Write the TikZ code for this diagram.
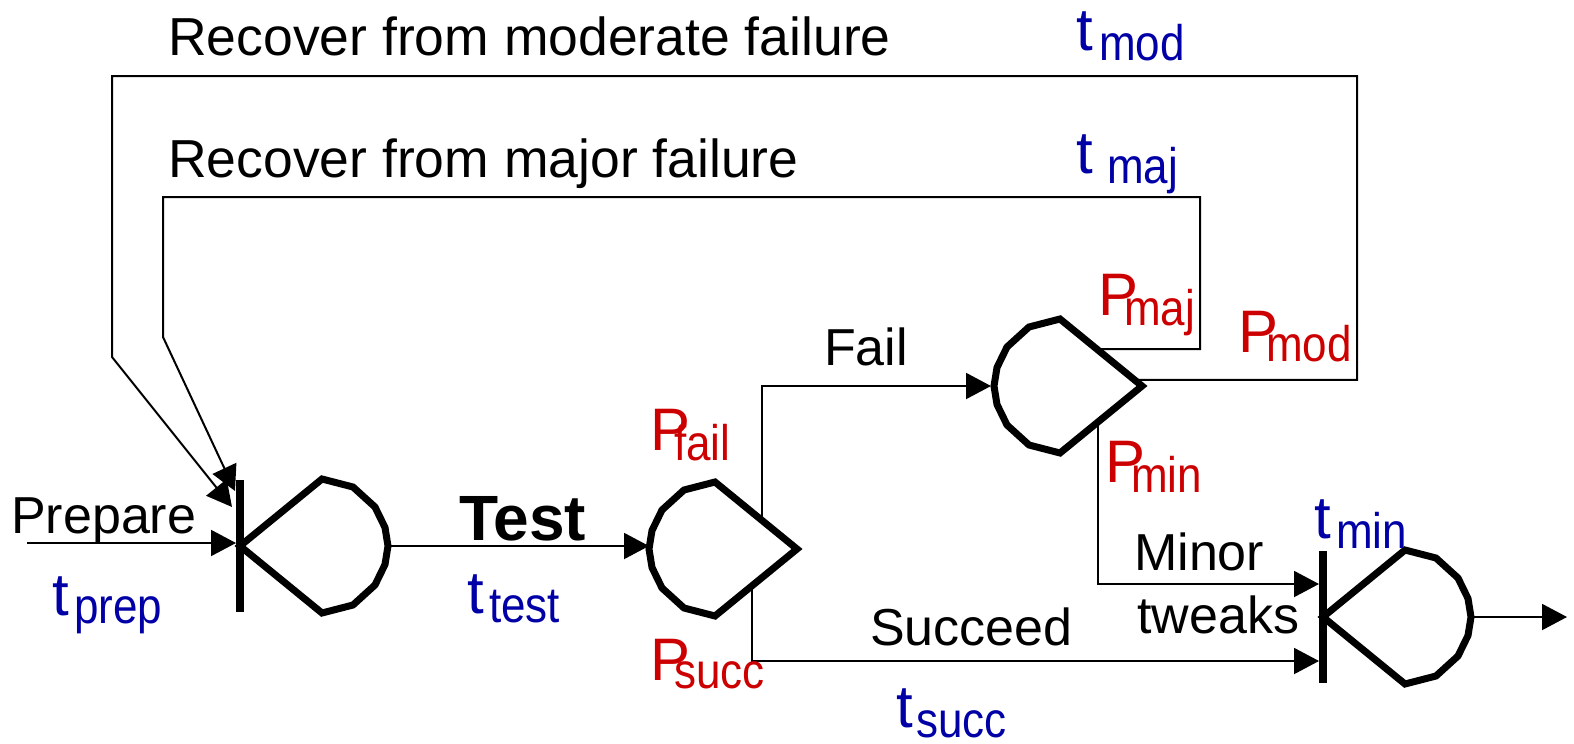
\documentclass[tikz,border=0pt]{standalone}
\usepackage{fontspec}
\setmainfont{Liberation Sans}
\usepackage{graphicx}
\usetikzlibrary{calc,arrows.meta}
\definecolor{pred}{RGB}{204,0,0}
\definecolor{tblue}{RGB}{0,0,166}
% gate shape: name, cx, cy, far-side sign, apex offset
\newcommand{\gateshape}[5]{%
  \coordinate (#1) at (#2,#3);
  \coordinate (#1-apex) at ($(#1)+(#5,0)$);
  \coordinate (#1-top) at ($(#1)+(0,-67)$);
  \coordinate (#1-bot) at ($(#1)+(0,67)$);
  \coordinate (#1-far) at ($(#1)+(#4*66,0)$);
  \draw[gateline] (#1-apex) -- (#1-top) -- ($(#1)+(#4*31,-59)$) -- ($(#1)+(#4*53,-39)$)
    -- ($(#1)+(#4*63,-18.5)$) -- (#1-far) -- ($(#1)+(#4*63,18.5)$) -- ($(#1)+(#4*53,39)$)
    -- ($(#1)+(#4*31,59)$) -- (#1-bot) -- cycle;
}
\newcommand{\symlab}[4]{\rlap{\fontsize{60}{60}\selectfont #1}\hspace{#2pt}\raisebox{-#3pt}{\scalebox{0.88}[1]{\fontsize{50}{50}\selectfont #4}}}
\newcommand{\txtfont}{\fontsize{52}{60}\selectfont}
\tikzset{
  gateline/.style={line width=7pt, line join=miter, miter limit=10},
  barline/.style={line width=7.5pt},
  conn/.style={line width=2pt},
  arr/.style={conn, -{Triangle[length=25pt,width=26pt]}},
  txt/.style={anchor=base west, inner sep=0pt, font=\txtfont},
  plab/.style={anchor=base west, inner sep=0pt, text=pred},
  tlab/.style={anchor=base west, inner sep=0pt, text=tblue},
}
\begin{document}
\begin{tikzpicture}[x=1pt,y=-1pt]
\useasboundingbox (0,0) rectangle (1574,744);

% gates
\gateshape{m1}{322}{546}{1}{-82}
\draw[barline] ($(m1-apex)+(0,-66)$) -- ($(m1-apex)+(0,66)$);
\gateshape{t}{715}{549}{-1}{82}
\gateshape{f}{1060}{386}{-1}{82}
\gateshape{m2}{1405}{617}{1}{-82}
\draw[barline] ($(m2-apex)+(0,-66)$) -- ($(m2-apex)+(0,66)$);

% connector coordinates
\coordinate (prepStart) at (27,543);
\coordinate (m1-in0) at (236,543);
\coordinate (m1-inA) at (232,507);
\coordinate (m1-inB) at (235,491);
\coordinate (tA) at ($(t-top)!0.573!(t-apex)$);
\coordinate (tB) at ($(t-bot)!0.45!(t-apex)$);
\coordinate (fIn) at ($(f-far)+(-3,0)$);
\coordinate (fC) at ($(f-bot)!0.463!(f-apex)$);
\coordinate (fMaj) at ($(f-top)!0.45!(f-apex)$);
\coordinate (fMod) at ($(f-top)!0.91!(f-apex)$);
\coordinate (m2-inhigh) at (1319,584);
\coordinate (m2-inlow) at (1319,661);
\coordinate (out) at (1567,617);
\coordinate (majTR) at (1200,197);
\coordinate (majTL) at (163,197);
\coordinate (majBL) at (163,337);
\coordinate (modTR) at (1357,76);
\coordinate (modTL) at (112,76);
\coordinate (modBL) at (112,357);

% connectors
\draw[arr] (prepStart) -- (m1-in0);
\draw[arr] (m1-far) -- (m1-far -| t-far);
\draw[arr] (tA) |- (fIn);
\draw[arr] (tB) |- (m2-inlow);
\draw[arr] (fC) |- (m2-inhigh);
\draw[arr] (fMaj) -| (majTR) -- (majTL) -- (majBL) -- (m1-inB);
\draw[arr] (fMod) -| (modTR) -- (modTL) -- (modBL) -- (m1-inA);
\draw[arr] (m2-far) -- (out);

% black labels
\node[txt] (lmod) at (168,55) {\fontsize{53.5}{60}\selectfont Recover from moderate failure};
\node[txt] (lmaj) at (168,177) {\fontsize{53.5}{60}\selectfont Recover from major failure};
\node[txt] (lprep) at (11,533) {Prepare};
\node[txt] (ltest) at (459,540) {\fontsize{64}{70}\selectfont\bfseries Test};
\node[txt] (lfail) at (824,365) {Fail};
\node[txt] (lsucc) at (870,645) {Succeed};
\node[txt] (lminor) at (1134,570) {Minor};
\node[txt] (ltweaks) at (1137,633) {tweaks};

% red probability labels
\node[plab] (Pmaj) at (1098,315) {\symlab{P}{26}{10}{maj}};
\node[plab] (Pmod) at (1238,352) {\symlab{P}{28}{9}{mod}};
\node[plab] (Pmin) at (1105,482) {\symlab{P}{26}{10}{min}};
\node[plab] (Pfail) at (650,450) {\symlab{P}{24}{10}{fail}};
\node[plab] (Psucc) at (650,680) {\symlab{P}{24}{8}{succ}};

% blue time labels
\node[tlab] (tmod) at (1076,50) {\symlab{t}{23}{10}{mod}};
\node[tlab] (tmaj) at (1076,173) {\symlab{t}{31}{10}{maj}};
\node[tlab] (tmin) at (1314,538) {\symlab{t}{22}{10}{min}};
\node[tlab] (ttest) at (467,613) {\symlab{t}{22}{9}{test}};
\node[tlab] (tsucc) at (896,727) {\symlab{t}{20}{10}{succ}};
\node[tlab] (tprep) at (52,615) {\symlab{t}{22}{8}{prep}};
\end{tikzpicture}
\end{document}
